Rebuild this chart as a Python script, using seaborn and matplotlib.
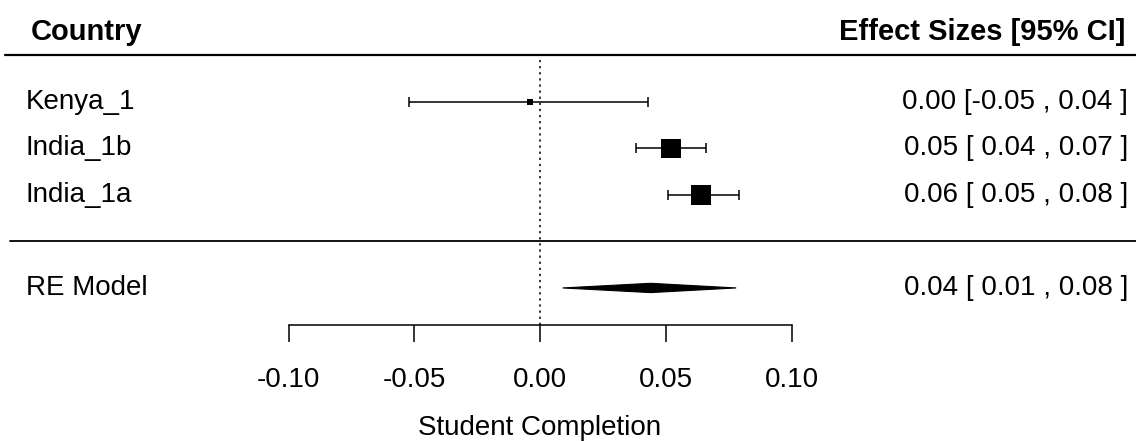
import numpy as np
import pandas as pd
import matplotlib
matplotlib.use("Agg")
import matplotlib.pyplot as plt
import seaborn as sns

# study level estimates
studies = ["Kenya_1", "India_1b", "India_1a"]
est = [-0.004, 0.052, 0.064]
ci_lo = [-0.052, 0.038, 0.051]
ci_hi = [0.043, 0.066, 0.079]
weights = [8.0, 45.0, 47.0]

# random effects summary
re_label = "RE Model"
re_est = 0.044
re_lo = 0.009
re_hi = 0.078

xticks = [-0.10, -0.05, 0.00, 0.05, 0.10]
xlabel = "Student Completion"
head_left = "Country"
head_right = "Effect Sizes [95% CI]"

sns.set_theme(style="white")
plt.rcParams["font.family"] = ["Liberation Sans", "DejaVu Sans"]
plt.rcParams["axes.unicode_minus"] = False
plt.rcParams["text.color"] = "black"
FS = 20

df = pd.DataFrame({"study": studies, "est": est, "lo": ci_lo, "hi": ci_hi, "w": weights})
df["row"] = np.arange(len(df), 0, -1)
w = df["w"].to_numpy()
psize = (w - w.min()) / (w.max() - w.min()) + 0.5
side_pt = 13.5 * psize * 0.72
area = dict(zip(df["study"], side_pt ** 2))


def fmt(v):
    s = f"{v:.2f}"
    return "0.00" if s == "-0.00" else s


def ci_text(e, lo, hi):
    lo_s = fmt(lo)
    lo_s = lo_s if lo_s.startswith("-") else " " + lo_s
    return f"{fmt(e)} [{lo_s} , {fmt(hi)} ]"


fig = plt.figure(figsize=(11.36, 4.41), dpi=100)
ax = fig.add_axes([0, 0, 1, 1])
ax.set_xlim(-540 / 2515, 596 / 2515)
ax.set_ylim(-4.29, 5.19)

# reference line at zero
ax.plot([0, 0], [-1.8, 3.9], color="black", lw=1.1, ls=(0, (1.5, 2.5)))

# confidence intervals with end caps
ax.errorbar(df["est"], df["row"], xerr=[df["est"] - df["lo"], df["hi"] - df["est"]],
            fmt="none", ecolor="black", elinewidth=1.1, capsize=3.5, capthick=1.1)

# squares sized by weight
sns.scatterplot(data=df, x="est", y="row", size="study", sizes=area, marker="s",
                color="black", edgecolor="black", linewidth=0, legend=False, ax=ax, zorder=3)
ax.set_xlabel("")
ax.set_ylabel("")

# summary diamond
h = 0.1
ax.fill([re_lo, re_est, re_hi, re_est], [-1, -1 + h, -1, -1 - h], color="black", lw=0.8,
        edgecolor="black")

# header and separator lines
ax.axhline(4, xmin=0.004, xmax=1, color="black", lw=1.6)
ax.axhline(0, xmin=0.009, xmax=1, color="black", lw=1.3)

xl = -0.2045
xr = 0.2338
ax.text(xl + 0.002, 4.5, head_left, fontsize=FS + 1, fontweight="bold", ha="left", va="center")
ax.text(xr - 0.001, 4.5, head_right, fontsize=FS + 1, fontweight="bold", ha="right", va="center")
for _, r in df.iterrows():
    ax.text(xl, r["row"], r["study"], fontsize=FS, ha="left", va="center")
    ax.text(xr, r["row"], ci_text(r["est"], r["lo"], r["hi"]), fontsize=FS, ha="right", va="center")
ax.text(xl, -1, re_label, fontsize=FS, ha="left", va="center")
ax.text(xr, -1, ci_text(re_est, re_lo, re_hi), fontsize=FS, ha="right", va="center")

# bottom axis
for s in ["top", "left", "right"]:
    ax.spines[s].set_visible(False)
ax.spines["bottom"].set_position(("data", -1.8))
ax.spines["bottom"].set_bounds(xticks[0], xticks[-1])
ax.spines["bottom"].set_linewidth(1.1)
ax.spines["bottom"].set_color("black")
ax.set_xticks(xticks)
ax.set_xticklabels([f"{t:.2f}" for t in xticks])
ax.tick_params(axis="x", bottom=True, length=12, width=1.1, direction="out", pad=18,
               labelsize=FS, colors="black")
ax.set_yticks([])
ax.text(0, -4.0, xlabel, fontsize=FS, ha="center", va="center")

fig.savefig("out.png", dpi=100)
